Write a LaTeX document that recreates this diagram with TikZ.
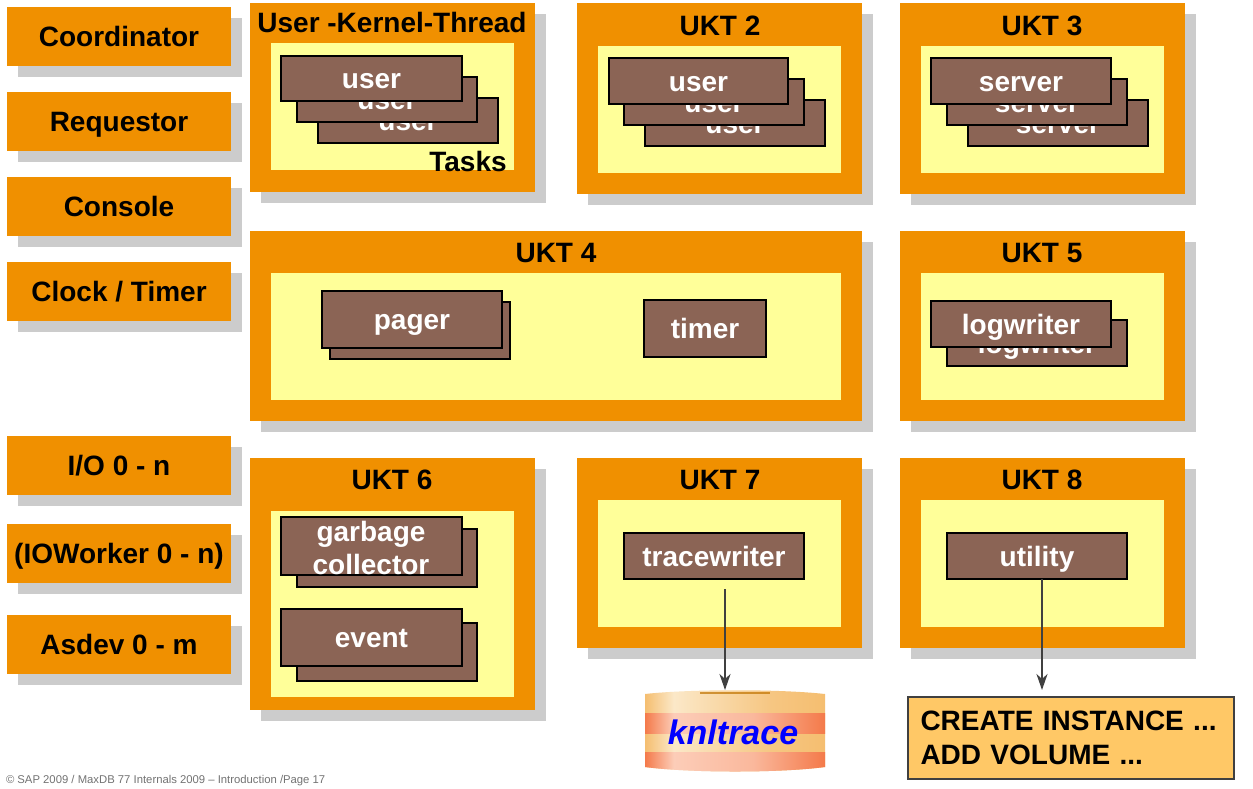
\documentclass[tikz,border=0pt]{standalone}
\usepackage{fontspec}
\setmainfont{Liberation Sans}
\usetikzlibrary{arrows.meta}
\definecolor{orng}{HTML}{F09000}
\definecolor{shad}{HTML}{CCCCCC}
\definecolor{yell}{HTML}{FFFF99}
\definecolor{brwn}{HTML}{8B6455}
\definecolor{cmdc}{HTML}{FFC866}
\definecolor{arrc}{HTML}{404040}
\definecolor{tana}{HTML}{F5BE70}
\definecolor{tanb}{HTML}{FBE8C8}
\definecolor{tanc}{HTML}{F6C682}
\definecolor{sala}{HTML}{F47A4A}
\definecolor{salb}{HTML}{FCCDB8}
\definecolor{salc}{HTML}{FAB89C}
\pgfdeclarehorizontalshading{tanshade}{100bp}{color(0bp)=(tana);color(25bp)=(tana);color(33bp)=(tanb);color(60bp)=(tanc);color(75bp)=(tana);color(100bp)=(tana)}
\pgfdeclarehorizontalshading{salshade}{100bp}{color(0bp)=(sala);color(25bp)=(sala);color(33bp)=(salb);color(55bp)=(salc);color(75bp)=(sala);color(100bp)=(sala)}
\tikzset{
  base/.style={inner sep=0pt,outer sep=0pt,font=\bfseries\fontsize{28}{33}\selectfont},
  capline/.style={text height=20pt,text depth=0pt},
  shadowbox/.style={base,fill=shad},
  orangebox/.style={base,fill=orng,capline},
  yellowbox/.style={base,fill=yell},
  taskbox/.style={base,fill=brwn,draw=black,line width=1.1pt,text=white,capline},
  title/.style={base,capline},
  flow/.style={draw=arrc,line width=2.2pt,-{Stealth[length=16pt,width=11pt,inset=5pt]}},
}
% name, style, x1, y1, x2, y2, text
\newcommand{\bx}[7]{%
  \pgfmathsetmacro{\bcx}{(#3+#5)/2}\pgfmathsetmacro{\bcy}{(#4+#6)/2}%
  \pgfmathsetmacro{\bw}{#5-#3}\pgfmathsetmacro{\bh}{#6-#4}%
  \node[#2,minimum width=\bw pt,minimum height=\bh pt] (#1) at (\bcx,\bcy) {#7};}
% side box with shadow: name, top y, text
\newcommand{\side}[3]{%
  \pgfmathsetmacro{\sya}{#2+11}\pgfmathsetmacro{\syb}{#2+70}\pgfmathsetmacro{\syc}{#2+59}%
  \bx{#1s}{shadowbox}{18}{\sya}{242}{\syb}{}%
  \bx{#1}{orangebox}{7}{#2}{231}{\syc}{#3}}
% thread box with shadow and yellow inner area: name, x1,y1,x2,y2, yellow y1, yellow y2
\newcommand{\ukt}[7]{%
  \pgfmathsetmacro{\uxa}{#2+11}\pgfmathsetmacro{\uya}{#3+11}\pgfmathsetmacro{\uxb}{#4+11}\pgfmathsetmacro{\uyb}{#5+11}%
  \bx{#1s}{shadowbox}{\uxa}{\uya}{\uxb}{\uyb}{}%
  \bx{#1}{base,fill=orng}{#2}{#3}{#4}{#5}{}%
  \pgfmathsetmacro{\vxa}{#2+21}\pgfmathsetmacro{\vxb}{#4-21}%
  \bx{#1y}{yellowbox}{\vxa}{#6}{\vxb}{#7}{}}
\begin{document}
\begin{tikzpicture}[x=1pt,y=-1pt]
\useasboundingbox (0,0) rectangle (1253,788);
\fill[white] (0,0) rectangle (1253,788);
\side{coord}{7}{Coordinator}
\side{req}{92}{Requestor}
\side{cons}{177}{Console}
\side{clock}{262}{Clock / Timer}
\side{io}{436}{I/O 0 - n}
\side{iow}{524}{(IOWorker 0 - n)}
\side{asd}{615}{Asdev 0 - m}

\ukt{a}{250}{3}{535}{192}{43}{170}
\node[title] (at2) at (392,22) {User -Kernel-Thread};
\bx{a3}{taskbox}{318}{98}{498}{143}{user}
\bx{a2}{taskbox}{297}{77}{477}{122}{user}
\bx{a1}{taskbox}{281}{56}{462}{101}{user}
\node[title] (tasks) at (468,161) {Tasks};

\ukt{b}{577}{3}{862}{194}{46}{173}
\node[title] (bt2) at (720,25) {UKT 2};
\bx{b3}{taskbox}{645}{100}{825}{146}{user}
\bx{b2}{taskbox}{624}{79}{804}{125}{user}
\bx{b1}{taskbox}{609}{58}{788}{104}{user}

\ukt{c}{900}{3}{1185}{194}{46}{173}
\node[title] (ct2) at (1042,25) {UKT 3};
\bx{c3}{taskbox}{968}{100}{1148}{146}{server}
\bx{c2}{taskbox}{947}{79}{1127}{125}{server}
\bx{c1}{taskbox}{931}{58}{1111}{104}{server}

\ukt{d}{250}{231}{862}{421}{273}{400}
\node[title] (dt2) at (556,252) {UKT 4};
\bx{d2}{taskbox}{330}{302}{510}{359}{}
\bx{d1}{taskbox}{322}{291}{502}{348}{pager}
\bx{d3}{taskbox}{644}{300}{766}{357}{timer}

\ukt{e}{900}{231}{1185}{421}{273}{400}
\node[title] (et2) at (1042,252) {UKT 5};
\bx{e2}{taskbox}{947}{320}{1127}{366}{logwriter}
\bx{e1}{taskbox}{931}{301}{1111}{347}{logwriter}

\ukt{f}{250}{458}{535}{710}{511}{697}
\node[title] (ft2) at (392,479) {UKT 6};
\bx{f2}{taskbox}{297}{529}{477}{587}{}
\bx{f1}{taskbox}{281}{517}{462}{575}{}
\node[base,text=white,align=center] (gc) at (371,548) {garbage\\collector};
\bx{f4}{taskbox}{297}{623}{477}{681}{}
\bx{f3}{taskbox}{281}{609}{462}{666}{event}

\ukt{g}{577}{458}{862}{648}{500}{627}
\node[title] (gt2) at (720,479) {UKT 7};
\bx{g1}{taskbox}{624}{533}{804}{579}{tracewriter}

\ukt{h}{900}{458}{1185}{648}{500}{627}
\node[title] (ht2) at (1042,479) {UKT 8};
\bx{h1}{taskbox}{947}{533}{1127}{579}{utility}

% knltrace disk
\begin{scope}
\clip (645,694) .. controls (690,689) and (780,689) .. (825,694) -- (825,767) .. controls (780,773) and (690,773) .. (645,767) -- cycle;
\shade[shading=tanshade] (645,688) rectangle (825,774);
\shade[shading=salshade] (645,713) rectangle (825,733);
\shade[shading=salshade] (645,752) rectangle (825,774);
\fill[orng!80!black,opacity=.7] (700,692) rectangle (770,694);
\end{scope}
\node[inner sep=0pt,outer sep=0pt,text=blue,font=\bfseries\itshape\fontsize{34}{40}\selectfont,text height=24pt,text depth=0pt] (knl) at (733,732) {knltrace};

\node[base,fill=cmdc,draw=arrc,line width=1.5pt,minimum width=326pt,minimum height=82pt,text width=301pt,align=left] (cmd) at (1071,738) {CREATE INSTANCE ...\\[1pt]ADD VOLUME ...};

\coordinate (twout) at (725,589);
\coordinate (twend) at (725,690);
\coordinate (utout) at (1042,579);
\coordinate (utend) at (1042,690);
\draw[flow] (twout) -- (twend);
\draw[flow] (utout) -- (utend);

\node[inner sep=0pt,outer sep=0pt,anchor=west,text=black!55,font=\fontsize{11.3}{13}\selectfont] (foot) at (6,781) {© SAP 2009 / MaxDB 77 Internals 2009 – Introduction /Page 17};
\end{tikzpicture}
\end{document}
